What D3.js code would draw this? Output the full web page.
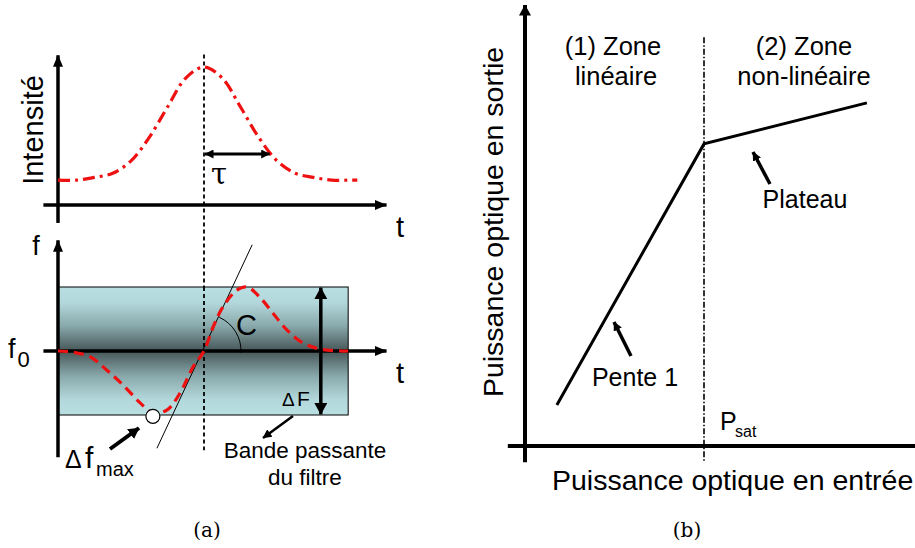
<!DOCTYPE html>
<html><head><meta charset="utf-8">
<script src="https://cdn.jsdelivr.net/npm/d3@7"></script>
<style>
html,body{margin:0;padding:0;background:#fff;}
svg{display:block;}
text{font-family:"Liberation Sans",Arial,sans-serif;fill:#000;}
.serif{font-family:"DejaVu Serif","Liberation Serif",serif;}
</style></head>
<body>
<script>
// ---------- DATA ----------
// (a) top: optical pulse intensity vs time (time units: pulse center = 0)
const pulseT = [-4, -3.5, -3, -2.5, -2, -1.5, -1, -0.5, 0, 0.5, 1, 1.5, 2, 2.5, 3, 3.5, 4, 4.2];
const pulseI = [0.18, 0.18, 0.20, 0.23, 0.32, 0.49, 0.71, 0.92, 1.00, 0.92, 0.71, 0.49, 0.32, 0.23, 0.20, 0.18, 0.18, 0.18];
const tauHalfWidth = 1.8;
// (a) bottom: instantaneous frequency (chirp) vs time, band = filter passband
const chirpT = [-4, -3.59, -3.12, -2.66, -2.22, -1.75, -1.40, -1.01, -0.66, -0.30, 0, 0.25, 0.52, 0.90, 1.18, 1.53, 1.89, 2.27, 2.71, 3.18, 3.73, 3.95];
const chirpF = [0, -0.02, -0.09, -0.30, -0.53, -0.81, -0.97, -0.92, -0.66, -0.25, 0, 0.375, 0.69, 0.95, 1.0, 0.84, 0.59, 0.33, 0.125, 0.03, 0, 0];
const bandT = [-4, 3.95];
const bandF = [-1, 1];
const tangentT = [-1.29, 1.32];
const tangentF = [-1.52, 1.66];
const dfMaxPoint = [-1.40, -1.02];
const deltaFT = 3.2;
// (b) output vs input optical power
const powerIn = [0.89, 5, 9.55];
const powerOut = [0.93, 6.85, 7.78];
const pSat = 5;

// ---------- SVG ----------
const W = 915, H = 548;
const svg = d3.select("body").append("svg").attr("width", W).attr("height", H);
const defs = svg.append("defs");

function marker(id, w, l) {
  defs.append("marker").attr("id", id)
    .attr("viewBox", `0 ${-w/2} ${l} ${w}`)
    .attr("refX", l - 0.5).attr("refY", 0)
    .attr("markerUnits", "userSpaceOnUse")
    .attr("markerWidth", l).attr("markerHeight", w)
    .attr("orient", "auto-start-reverse")
    .append("path").attr("d", `M0,${-w/2}L${l},0L0,${w/2}Z`).attr("fill", "#000");
}
marker("ax", 10, 12);
marker("big", 13, 12);
marker("ann", 12, 11);
marker("small", 9, 9);

const grad = defs.append("linearGradient").attr("id", "band").attr("x1", 0).attr("x2", 0).attr("y1", 0).attr("y2", 1);
[[0, "#b9dfe2"], [0.12, "#b3d8db"], [0.3, "#8aaaad"], [0.5, "#465657"], [0.7, "#8aaaad"], [0.88, "#b3d8db"], [1, "#b9dfe2"]]
  .forEach(([o, c]) => grad.append("stop").attr("offset", o).attr("stop-color", c));

// ---------- PANEL (a) ----------
const tX = d3.scaleLinear().domain([-4, 5]).range([58, 386.5]);
const iY = d3.scaleLinear().domain([0, 1]).range([205, 67]);
const fY = d3.scaleLinear().domain([-1, 1]).range([415, 287]);

svg.append("line").attr("x1", tX(0)).attr("x2", tX(0)).attr("y1", iY(1.09)).attr("y2", fY(-1.55))
  .attr("stroke", "#000").attr("stroke-width", 1.8).attr("stroke-dasharray", "4,3");

svg.append("line").attr("x1", tX(-4)).attr("x2", tX(-4)).attr("y1", iY(-0.13)).attr("y2", iY(1.085))
  .attr("stroke", "#000").attr("stroke-width", 3.5).attr("marker-end", "url(#ax)");
svg.append("line").attr("x1", tX(-4.4)).attr("x2", tX(5)).attr("y1", iY(0)).attr("y2", iY(0))
  .attr("stroke", "#000").attr("stroke-width", 3.5).attr("marker-end", "url(#ax)");

svg.append("path").datum(pulseT.map((t, i) => [t, pulseI[i]]))
  .attr("d", d3.line().x(d => tX(d[0])).y(d => iY(d[1])).curve(d3.curveCatmullRom.alpha(0.5)))
  .attr("fill", "none").attr("stroke", "#ee1111").attr("stroke-width", 3.2)
  .attr("stroke-dasharray", "12,5,3,5");

const tauY = iY((205 - 154) / 138);
svg.append("line").attr("x1", tX(0) + 1).attr("x2", tX(tauHalfWidth)).attr("y1", tauY).attr("y2", tauY)
  .attr("stroke", "#000").attr("stroke-width", 3)
  .attr("marker-start", "url(#small)").attr("marker-end", "url(#small)");
svg.append("text").attr("class", "serif").attr("x", 211).attr("y", 184).attr("font-size", 29).text("τ");

svg.append("text").attr("transform", "translate(43,130) rotate(-90)").attr("text-anchor", "middle")
  .attr("font-size", 29).text("Intensité");
svg.append("text").attr("x", 400).attr("y", 237).attr("text-anchor", "middle").attr("font-size", 29).text("t");

svg.append("rect").attr("x", tX(bandT[0])).attr("y", fY(bandF[1]))
  .attr("width", tX(bandT[1]) - tX(bandT[0])).attr("height", fY(bandF[0]) - fY(bandF[1]))
  .attr("fill", "url(#band)").attr("stroke", "#000").attr("stroke-width", 1);

svg.append("line").attr("x1", tX(0)).attr("x2", tX(0)).attr("y1", fY(1)).attr("y2", fY(-1))
  .attr("stroke", "#000").attr("stroke-width", 1.8).attr("stroke-dasharray", "4,3");

svg.append("line").attr("x1", tX(-4)).attr("x2", tX(-4)).attr("y1", fY(-1.66)).attr("y2", fY(1.73))
  .attr("stroke", "#000").attr("stroke-width", 3.5).attr("marker-end", "url(#ax)");
svg.append("line").attr("x1", tX(-4.4)).attr("x2", tX(5)).attr("y1", fY(0)).attr("y2", fY(0))
  .attr("stroke", "#000").attr("stroke-width", 3.5).attr("marker-end", "url(#ax)");

svg.append("line").attr("x1", tX(tangentT[0])).attr("y1", fY(tangentF[0]))
  .attr("x2", tX(tangentT[1])).attr("y2", fY(tangentF[1]))
  .attr("stroke", "#000").attr("stroke-width", 1);

{
  const cx = tX(0), cy = fY(0), r = 37;
  const a0 = Math.atan2(fY(tangentF[1]) - cy, tX(tangentT[1]) - cx);
  const p = d3.path();
  p.arc(cx, cy, r, a0, 0.05, false);
  svg.append("path").attr("d", p.toString()).attr("fill", "none").attr("stroke", "#000").attr("stroke-width", 1);
}

svg.append("path").datum(chirpT.map((t, i) => [t, chirpF[i]]))
  .attr("d", d3.line().x(d => tX(d[0])).y(d => fY(d[1])).curve(d3.curveCatmullRom.alpha(0.5)))
  .attr("fill", "none").attr("stroke", "#ee1111").attr("stroke-width", 3.2)
  .attr("stroke-dasharray", "10,6");

svg.append("line").attr("x1", tX(deltaFT)).attr("x2", tX(deltaFT)).attr("y1", fY(0.99)).attr("y2", fY(-0.99))
  .attr("stroke", "#000").attr("stroke-width", 3.5)
  .attr("marker-start", "url(#big)").attr("marker-end", "url(#big)");

svg.append("circle").attr("cx", tX(dfMaxPoint[0])).attr("cy", fY(dfMaxPoint[1])).attr("r", 7)
  .attr("fill", "#fff").attr("stroke", "#000").attr("stroke-width", 1.2);

svg.append("line").attr("x1", 110).attr("y1", 449).attr("x2", 139).attr("y2", 428)
  .attr("stroke", "#000").attr("stroke-width", 4).attr("marker-end", "url(#ann)");
svg.append("line").attr("x1", 293).attr("y1", 416).attr("x2", 263).attr("y2", 438)
  .attr("stroke", "#000").attr("stroke-width", 2.5).attr("marker-end", "url(#small)");

svg.append("text").attr("x", 36).attr("y", 255).attr("text-anchor", "middle").attr("font-size", 27).text("f");
svg.append("text").attr("x", 8).attr("y", 358).attr("font-size", 27).text("f");
svg.append("text").attr("x", 17.5).attr("y", 367).attr("font-size", 22).text("0");
svg.append("text").attr("x", 400).attr("y", 383).attr("text-anchor", "middle").attr("font-size", 29).text("t");
svg.append("text").attr("x", 236).attr("y", 335).attr("font-size", 29).text("C");
svg.append("text").attr("x", 282).attr("y", 406).attr("font-size", 19).text("Δ");
svg.append("text").attr("x", 297).attr("y", 406).attr("font-size", 21).text("F");
svg.append("text").attr("x", 65).attr("y", 468).attr("font-size", 25).text("Δ");
svg.append("text").attr("x", 85).attr("y", 468).attr("font-size", 30).text("f");
svg.append("text").attr("x", 96).attr("y", 476).attr("font-size", 20).text("max");
svg.append("text").attr("x", 305).attr("y", 458).attr("text-anchor", "middle").attr("font-size", 22.5).text("Bande passante");
svg.append("text").attr("x", 305).attr("y", 485).attr("text-anchor", "middle").attr("font-size", 22.5).text("du filtre");
svg.append("text").attr("class", "serif").attr("x", 207).attr("y", 537).attr("text-anchor", "middle").attr("font-size", 20).text("(a)");

// ---------- PANEL (b) ----------
const pX = d3.scaleLinear().domain([0, 10]).range([525, 883]);
const pY = d3.scaleLinear().domain([0, 10]).range([446, 5]);

svg.append("line").attr("x1", pX(pSat)).attr("x2", pX(pSat)).attr("y1", pY(9.27)).attr("y2", pY(-0.36))
  .attr("stroke", "#000").attr("stroke-width", 1.6).attr("stroke-dasharray", "6,2,1.5,2");

svg.append("line").attr("x1", pX(0)).attr("x2", pX(0)).attr("y1", pY(-0.37)).attr("y2", pY(10))
  .attr("stroke", "#000").attr("stroke-width", 4).attr("marker-end", "url(#ann)");
svg.append("line").attr("x1", pX(-0.48)).attr("x2", pX(11.2)).attr("y1", pY(0)).attr("y2", pY(0))
  .attr("stroke", "#000").attr("stroke-width", 4).attr("marker-end", "url(#ann)");

svg.append("path").datum(powerIn.map((p, i) => [p, powerOut[i]]))
  .attr("d", d3.line().x(d => pX(d[0])).y(d => pY(d[1])))
  .attr("fill", "none").attr("stroke", "#000").attr("stroke-width", 3).attr("stroke-linejoin", "miter");

svg.append("line").attr("x1", 631).attr("y1", 356).attr("x2", 614).attr("y2", 322)
  .attr("stroke", "#000").attr("stroke-width", 3.5).attr("marker-end", "url(#small)");
svg.append("line").attr("x1", 770).attr("y1", 184).attr("x2", 753).attr("y2", 152)
  .attr("stroke", "#000").attr("stroke-width", 3.5).attr("marker-end", "url(#small)");

svg.append("text").attr("x", 613).attr("y", 55).attr("text-anchor", "middle").attr("font-size", 25.5).text("(1) Zone");
svg.append("text").attr("x", 616).attr("y", 85).attr("text-anchor", "middle").attr("font-size", 25.5).text("linéaire");
svg.append("text").attr("x", 804).attr("y", 55).attr("text-anchor", "middle").attr("font-size", 25.5).text("(2) Zone");
svg.append("text").attr("x", 804).attr("y", 85).attr("text-anchor", "middle").attr("font-size", 25.5).text("non-linéaire");
svg.append("text").attr("x", 805).attr("y", 208).attr("text-anchor", "middle").attr("font-size", 25).text("Plateau");
svg.append("text").attr("x", 635).attr("y", 386).attr("text-anchor", "middle").attr("font-size", 25).text("Pente 1");
svg.append("text").attr("x", 720).attr("y", 430).attr("font-size", 25).text("P");
svg.append("text").attr("x", 735).attr("y", 437).attr("font-size", 16).text("sat");
svg.append("text").attr("x", 552).attr("y", 490).attr("font-size", 28.5).text("Puissance optique en entrée");
svg.append("text").attr("transform", "translate(503,222) rotate(-90)").attr("text-anchor", "middle")
  .attr("font-size", 28.5).text("Puissance optique en sortie");
svg.append("text").attr("class", "serif").attr("x", 687).attr("y", 537).attr("text-anchor", "middle").attr("font-size", 20).text("(b)");
</script>
</body></html>
